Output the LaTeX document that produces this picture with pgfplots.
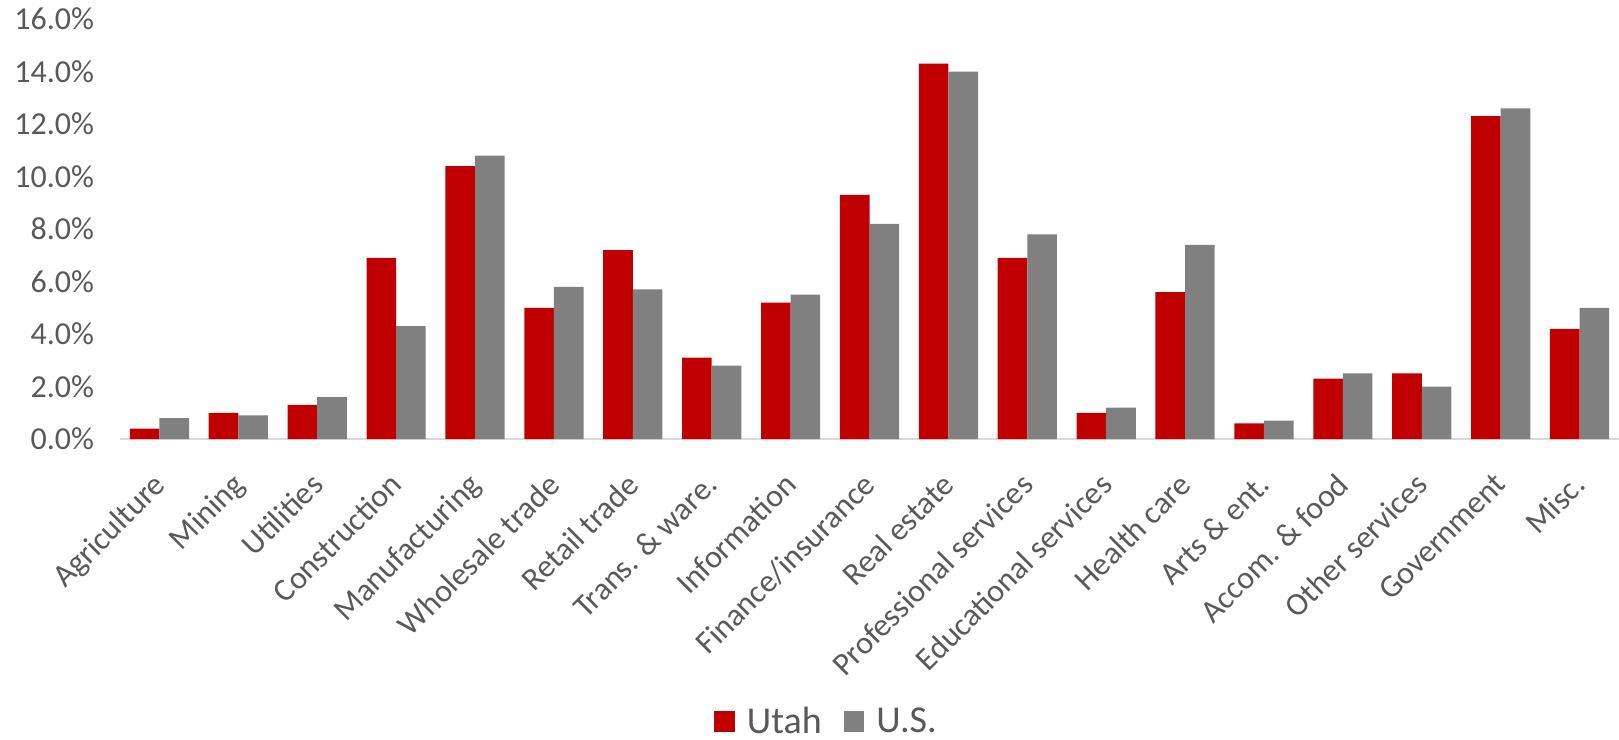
\documentclass[border=0pt]{standalone}
\usepackage{pgfplots}
\pgfplotsset{compat=1.18}
\usepackage{fontspec}
\setmainfont{Carlito}
\usetikzlibrary{calc}
\definecolor{utah}{HTML}{C00000}
\definecolor{us}{HTML}{808080}
\definecolor{txt}{HTML}{595959}
\definecolor{base}{HTML}{D9D9D9}
\begin{document}
\begin{tikzpicture}
\begin{axis}[name=ax, scale only axis, width=749.5pt, height=210pt,
  ybar=0pt, bar width=14.8pt,
  xmin=-0.5, xmax=18.5, ymin=0, ymax=16,
  xtick={0,...,18},
  xticklabels={Agriculture,Mining,Utilities,Construction,Manufacturing,Wholesale trade,Retail trade,Trans. \& ware.,Information,Finance/insurance,Real estate,Professional services,Educational services,Health care,Arts \& ent.,Accom. \& food,Other services,Government,Misc.},
  ytick={0,2,...,16},
  yticklabel={\pgfmathprintnumber[fixed,fixed zerofill,precision=1]{\tick}\%},
  /pgf/number format/assume math mode=true,
  axis x line*=bottom, axis y line*=left,
  y axis line style={draw=none},
  x axis line style={draw=base, line width=1pt, -},
  major tick length=0pt,
  xticklabel style={font=\fontsize{16}{19}\selectfont, text=txt, xshift=-4pt, yshift=-11.2pt, rotate=45, anchor=north east},
  yticklabel style={font=\fontsize{16}{19}\selectfont, text=txt, xshift=-9.5pt},
  legend columns=2,
  legend style={draw=none, at={(0.472,-0.673)}, anchor=center,
    font=\fontsize{19}{22}\selectfont, text=txt,
    /tikz/every odd column/.append style={column sep=4pt},
    /tikz/every even column/.append style={column sep=9pt}},
  legend image code/.code={\fill[#1] (0pt,-5.15pt) rectangle (10.3pt,5.15pt);},
]
\addplot[fill=utah, draw=none] coordinates {
(0,0.4) (1,1.0) (2,1.3) (3,6.9) (4,10.4) (5,5.0) (6,7.2) (7,3.1) (8,5.2) (9,9.3)
(10,14.3) (11,6.9) (12,1.0) (13,5.6) (14,0.6) (15,2.3) (16,2.5) (17,12.3) (18,4.2)};
\addplot[fill=us, draw=none] coordinates {
(0,0.8) (1,0.9) (2,1.6) (3,4.3) (4,10.8) (5,5.8) (6,5.7) (7,2.8) (8,5.5) (9,8.2)
(10,14.0) (11,7.8) (12,1.2) (13,7.4) (14,0.7) (15,2.5) (16,2.0) (17,12.6) (18,5.0)};
\legend{Utah,U.S.}
\end{axis}
\pgfresetboundingbox
\path ($(ax.south west)+(-60pt,-150.35pt)$) rectangle ($(ax.north east)+(0pt,9.5pt)$);
\end{tikzpicture}
\end{document}
